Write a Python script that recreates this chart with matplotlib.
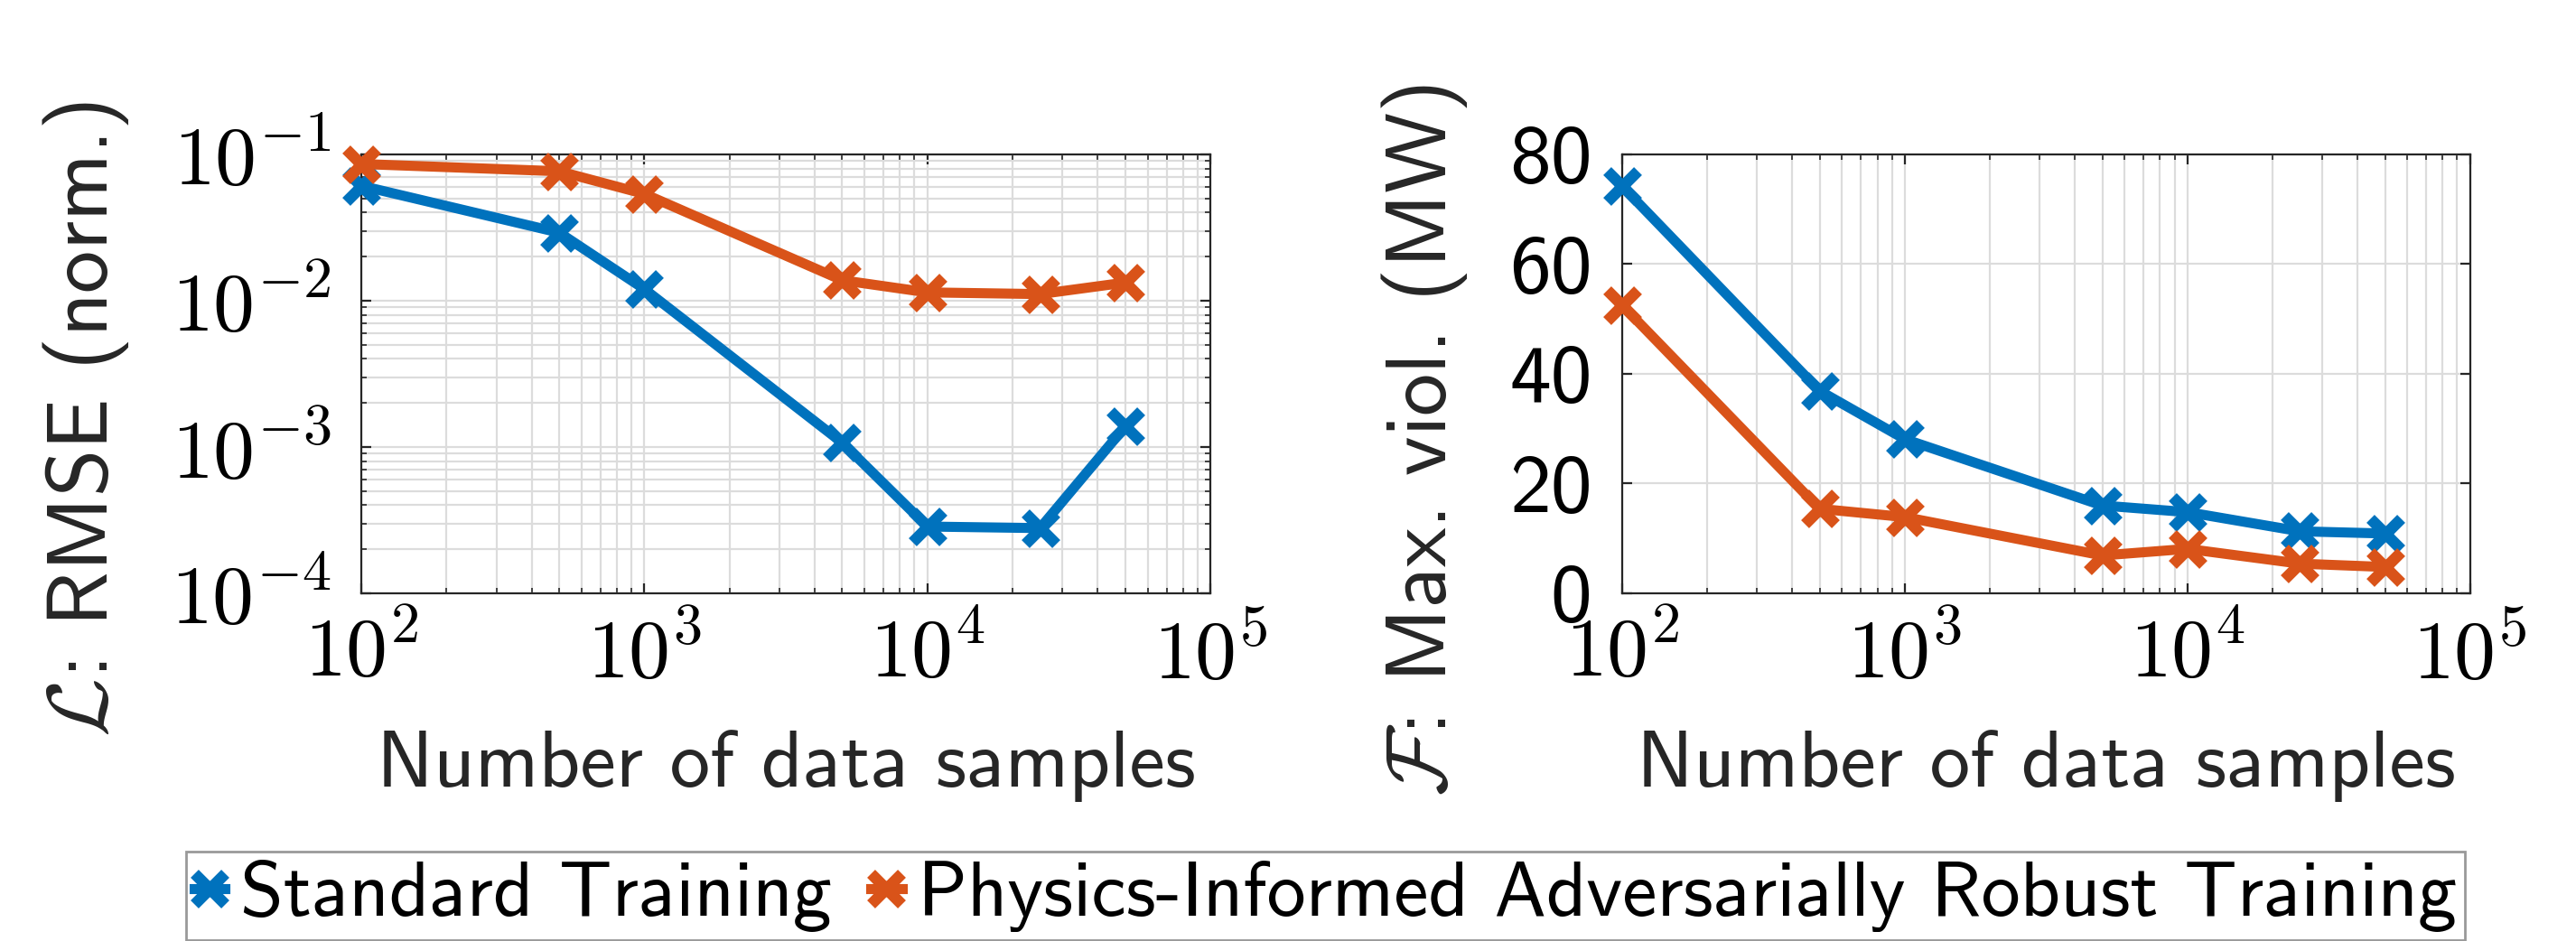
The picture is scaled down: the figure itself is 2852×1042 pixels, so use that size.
import numpy as np
import matplotlib
matplotlib.use("Agg")
import matplotlib.pyplot as plt
from matplotlib.lines import Line2D
from matplotlib.ticker import FuncFormatter, LogLocator

""" Values read off the reference chart """
samples = [100, 500, 1000, 5000, 10000, 25000, 50000]
rmse_standard = [0.061, 0.0292, 0.0120, 0.00107, 0.000286, 0.000279, 0.00138]
rmse_pinn = [0.086, 0.0767, 0.0537, 0.0138, 0.0114, 0.0111, 0.0133]
viol_standard = [74.2, 36.9, 28.1, 16.0, 14.8, 11.3, 10.9]
viol_pinn = [52.5, 15.4, 13.9, 6.9, 8.1, 5.4, 4.8]
series_names = ["Standard Training",
                "Physics-Informed Adversarially Robust Training"]
x_decades = [1e2, 1e3, 1e4, 1e5]
rmse_decades = [1e-4, 1e-3, 1e-2, 1e-1]
viol_ticks = [0, 20, 40, 60, 80]

blue = "#0072BD"
orange = "#D95319"
dark = "#262626"
grid_col = "#dcdcdc"

""" Computer Modern sans everywhere """
plt.rcParams["font.family"] = "cmss10"
plt.rcParams["mathtext.fontset"] = "cm"
plt.rcParams["axes.unicode_minus"] = False


def pow10(v, pos):
    return r"$\mathsf{10^{%d}}$" % int(round(np.log10(v)))


fig = plt.figure(figsize=(14.26, 5.21), dpi=200)
ax1 = fig.add_axes([0.1403, 0.3695, 0.3296, 0.4664])
ax2 = fig.add_axes([0.6297, 0.3695, 0.3292, 0.4664])

style = dict(lw=4, marker="x", ms=12, mew=4.5, clip_on=False, zorder=3)
ylab_style = dict(fontsize=34, color=dark, ha="center", va="center",
                  rotation_mode="default")

""" Left: RMSE """
ax1.loglog(samples, rmse_standard, color=blue, **style)
ax1.loglog(samples, rmse_pinn, color=orange, **style)
ax1.set_ylim(1e-4, 1e-1)
ax1.set_yticks(rmse_decades)
ax1.yaxis.set_minor_locator(LogLocator(base=10, subs=np.arange(2, 10), numticks=20))
ax1.yaxis.set_major_formatter(FuncFormatter(pow10))
ax1.grid(True, which="both", color=grid_col, lw=0.8)
ax1.set_ylabel(r"$\mathcal{L}$: RMSE (norm.)", **ylab_style)
ax1.yaxis.set_label_coords(-0.3245, 0.397)

""" Right: max violation """
ax2.semilogx(samples, viol_standard, color=blue, **style)
ax2.semilogx(samples, viol_pinn, color=orange, **style)
ax2.set_ylim(0, 80)
ax2.set_yticks(viol_ticks)
ax2.grid(True, which="major", color=grid_col, lw=0.8)
ax2.grid(True, which="minor", axis="x", color=grid_col, lw=0.8)
ax2.set_ylabel(r"$\mathcal{F}$: Max. viol. (MW)", **ylab_style)
ax2.yaxis.set_label_coords(-0.2332, 0.35)

for ax in (ax1, ax2):
    ax.set_xlim(1e2, 1e5)
    ax.set_xticks(x_decades)
    ax.xaxis.set_minor_locator(LogLocator(base=10, subs=np.arange(2, 10), numticks=20))
    ax.xaxis.set_major_formatter(FuncFormatter(pow10))
    ax.set_axisbelow(True)
    ax.set_xlabel("Number of data samples", fontsize=32, color=dark, va="top")
    ax.xaxis.set_label_coords(0.5, -0.31)
    ax.tick_params(which="both", direction="in", top=True, right=True,
                   labelsize=33, color=dark)
    ax.tick_params(axis="y", pad=12)
    ax.tick_params(axis="x", pad=9)
    ax.tick_params(which="major", length=4, width=0.8)
    ax.tick_params(which="minor", length=2, width=0.6)
    for sp in ax.spines.values():
        sp.set_color(dark)
        sp.set_linewidth(0.8)

""" Legend below both panels """
handles = [Line2D([], [], color=c, lw=4, marker="x", ms=12, mew=4.5)
           for c in (blue, orange)]
leg = fig.legend(handles, series_names, loc="center",
                 bbox_to_anchor=(0.5145, 0.048), ncol=2, fontsize=31,
                 frameon=True, fancybox=False, edgecolor="#808080",
                 handlelength=0.4, handletextpad=0.2, columnspacing=0.5,
                 borderpad=0.1, borderaxespad=0)
leg.get_frame().set_linewidth(1.0)

fig.savefig("out.png", dpi=200)
